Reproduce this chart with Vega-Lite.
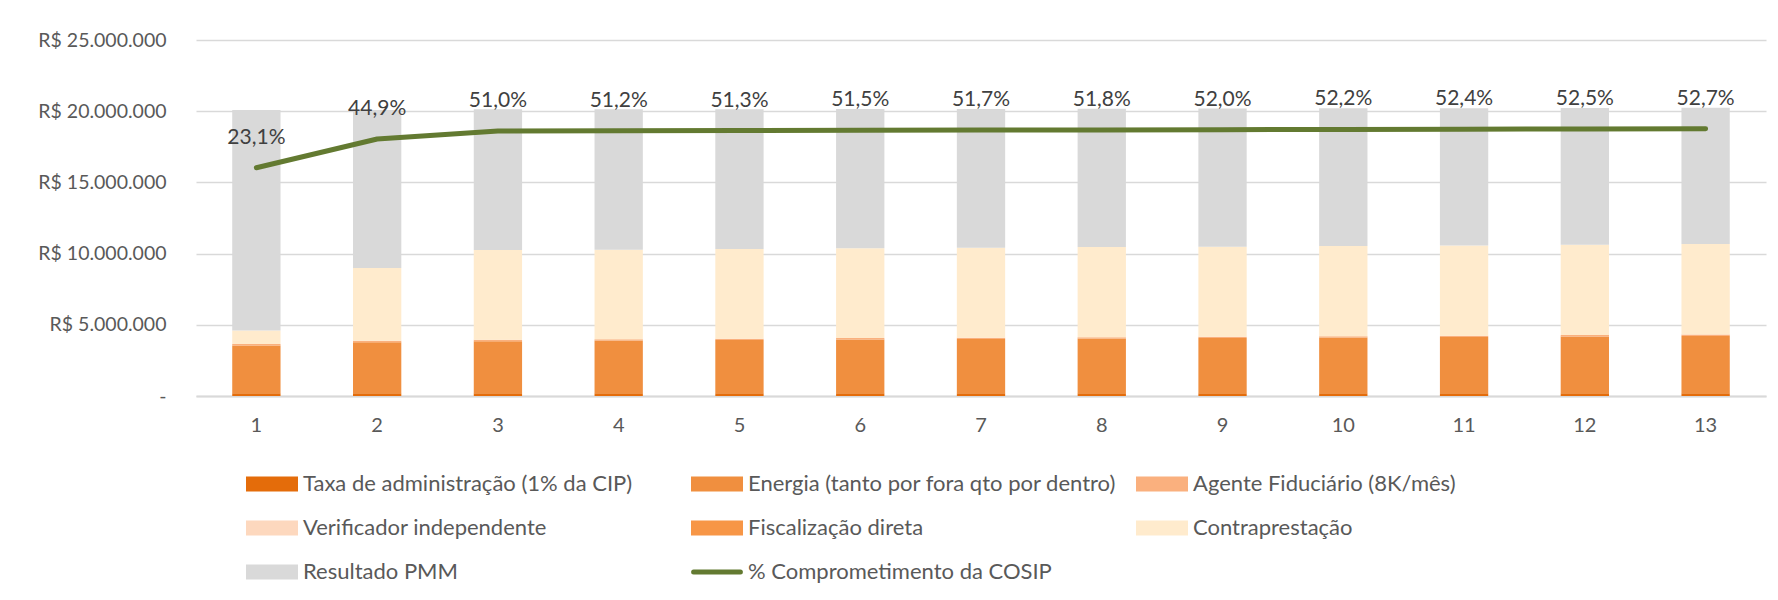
{
  "$schema": "https://vega.github.io/schema/vega-lite/v6.json",
  "width": 1570,
  "height": 356,
  "autosize": {"type": "none"},
  "padding": {"left": 196, "top": 40, "right": 12, "bottom": 204},
  "background": "white",
  "config": {
    "locale": {"number": {"decimal": ",", "thousands": ".", "grouping": [3], "currency": ["R$ ", ""]}},
    "view": {"stroke": null},
    "font": "Lato",
    "axis": {"labelFont": "Lato", "labelFontSize": 20, "labelColor": "#595959"}
  },
  "datasets": {
    "custos": [
      {"ano": 1, "serie": "Taxa de administração (1% da CIP)", "ordem": 1, "valor": 200000},
      {"ano": 1, "serie": "Energia (tanto por fora qto por dentro)", "ordem": 2, "valor": 3350000},
      {"ano": 1, "serie": "Agente Fiduciário (8K/mês)", "ordem": 3, "valor": 96000},
      {"ano": 1, "serie": "Verificador independente", "ordem": 4, "valor": 0},
      {"ano": 1, "serie": "Fiscalização direta", "ordem": 5, "valor": 0},
      {"ano": 1, "serie": "Contraprestação", "ordem": 6, "valor": 954000},
      {"ano": 1, "serie": "Resultado PMM", "ordem": 7, "valor": 15480000},
      {"ano": 2, "serie": "Taxa de administração (1% da CIP)", "ordem": 1, "valor": 200000},
      {"ano": 2, "serie": "Energia (tanto por fora qto por dentro)", "ordem": 2, "valor": 3580000},
      {"ano": 2, "serie": "Agente Fiduciário (8K/mês)", "ordem": 3, "valor": 96000},
      {"ano": 2, "serie": "Verificador independente", "ordem": 4, "valor": 0},
      {"ano": 2, "serie": "Fiscalização direta", "ordem": 5, "valor": 0},
      {"ano": 2, "serie": "Contraprestação", "ordem": 6, "valor": 5114000},
      {"ano": 2, "serie": "Resultado PMM", "ordem": 7, "valor": 11090000},
      {"ano": 3, "serie": "Taxa de administração (1% da CIP)", "ordem": 1, "valor": 200000},
      {"ano": 3, "serie": "Energia (tanto por fora qto por dentro)", "ordem": 2, "valor": 3650000},
      {"ano": 3, "serie": "Agente Fiduciário (8K/mês)", "ordem": 3, "valor": 96000},
      {"ano": 3, "serie": "Verificador independente", "ordem": 4, "valor": 0},
      {"ano": 3, "serie": "Fiscalização direta", "ordem": 5, "valor": 0},
      {"ano": 3, "serie": "Contraprestação", "ordem": 6, "valor": 6304000},
      {"ano": 3, "serie": "Resultado PMM", "ordem": 7, "valor": 9880000},
      {"ano": 4, "serie": "Taxa de administração (1% da CIP)", "ordem": 1, "valor": 200000},
      {"ano": 4, "serie": "Energia (tanto por fora qto por dentro)", "ordem": 2, "valor": 3690000},
      {"ano": 4, "serie": "Agente Fiduciário (8K/mês)", "ordem": 3, "valor": 96000},
      {"ano": 4, "serie": "Verificador independente", "ordem": 4, "valor": 0},
      {"ano": 4, "serie": "Fiscalização direta", "ordem": 5, "valor": 0},
      {"ano": 4, "serie": "Contraprestação", "ordem": 6, "valor": 6284000},
      {"ano": 4, "serie": "Resultado PMM", "ordem": 7, "valor": 9860000},
      {"ano": 5, "serie": "Taxa de administração (1% da CIP)", "ordem": 1, "valor": 200000},
      {"ano": 5, "serie": "Energia (tanto por fora qto por dentro)", "ordem": 2, "valor": 3730000},
      {"ano": 5, "serie": "Agente Fiduciário (8K/mês)", "ordem": 3, "valor": 96000},
      {"ano": 5, "serie": "Verificador independente", "ordem": 4, "valor": 0},
      {"ano": 5, "serie": "Fiscalização direta", "ordem": 5, "valor": 0},
      {"ano": 5, "serie": "Contraprestação", "ordem": 6, "valor": 6294000},
      {"ano": 5, "serie": "Resultado PMM", "ordem": 7, "valor": 9820000},
      {"ano": 6, "serie": "Taxa de administração (1% da CIP)", "ordem": 1, "valor": 200000},
      {"ano": 6, "serie": "Energia (tanto por fora qto por dentro)", "ordem": 2, "valor": 3770000},
      {"ano": 6, "serie": "Agente Fiduciário (8K/mês)", "ordem": 3, "valor": 96000},
      {"ano": 6, "serie": "Verificador independente", "ordem": 4, "valor": 0},
      {"ano": 6, "serie": "Fiscalização direta", "ordem": 5, "valor": 0},
      {"ano": 6, "serie": "Contraprestação", "ordem": 6, "valor": 6304000},
      {"ano": 6, "serie": "Resultado PMM", "ordem": 7, "valor": 9780000},
      {"ano": 7, "serie": "Taxa de administração (1% da CIP)", "ordem": 1, "valor": 200000},
      {"ano": 7, "serie": "Energia (tanto por fora qto por dentro)", "ordem": 2, "valor": 3800000},
      {"ano": 7, "serie": "Agente Fiduciário (8K/mês)", "ordem": 3, "valor": 96000},
      {"ano": 7, "serie": "Verificador independente", "ordem": 4, "valor": 0},
      {"ano": 7, "serie": "Fiscalização direta", "ordem": 5, "valor": 0},
      {"ano": 7, "serie": "Contraprestação", "ordem": 6, "valor": 6314000},
      {"ano": 7, "serie": "Resultado PMM", "ordem": 7, "valor": 9750000},
      {"ano": 8, "serie": "Taxa de administração (1% da CIP)", "ordem": 1, "valor": 200000},
      {"ano": 8, "serie": "Energia (tanto por fora qto por dentro)", "ordem": 2, "valor": 3830000},
      {"ano": 8, "serie": "Agente Fiduciário (8K/mês)", "ordem": 3, "valor": 96000},
      {"ano": 8, "serie": "Verificador independente", "ordem": 4, "valor": 0},
      {"ano": 8, "serie": "Fiscalização direta", "ordem": 5, "valor": 0},
      {"ano": 8, "serie": "Contraprestação", "ordem": 6, "valor": 6334000},
      {"ano": 8, "serie": "Resultado PMM", "ordem": 7, "valor": 9720000},
      {"ano": 9, "serie": "Taxa de administração (1% da CIP)", "ordem": 1, "valor": 200000},
      {"ano": 9, "serie": "Energia (tanto por fora qto por dentro)", "ordem": 2, "valor": 3870000},
      {"ano": 9, "serie": "Agente Fiduciário (8K/mês)", "ordem": 3, "valor": 96000},
      {"ano": 9, "serie": "Verificador independente", "ordem": 4, "valor": 0},
      {"ano": 9, "serie": "Fiscalização direta", "ordem": 5, "valor": 0},
      {"ano": 9, "serie": "Contraprestação", "ordem": 6, "valor": 6314000},
      {"ano": 9, "serie": "Resultado PMM", "ordem": 7, "valor": 9710000},
      {"ano": 10, "serie": "Taxa de administração (1% da CIP)", "ordem": 1, "valor": 200000},
      {"ano": 10, "serie": "Energia (tanto por fora qto por dentro)", "ordem": 2, "valor": 3900000},
      {"ano": 10, "serie": "Agente Fiduciário (8K/mês)", "ordem": 3, "valor": 96000},
      {"ano": 10, "serie": "Verificador independente", "ordem": 4, "valor": 0},
      {"ano": 10, "serie": "Fiscalização direta", "ordem": 5, "valor": 0},
      {"ano": 10, "serie": "Contraprestação", "ordem": 6, "valor": 6334000},
      {"ano": 10, "serie": "Resultado PMM", "ordem": 7, "valor": 9670000},
      {"ano": 11, "serie": "Taxa de administração (1% da CIP)", "ordem": 1, "valor": 200000},
      {"ano": 11, "serie": "Energia (tanto por fora qto por dentro)", "ordem": 2, "valor": 3940000},
      {"ano": 11, "serie": "Agente Fiduciário (8K/mês)", "ordem": 3, "valor": 96000},
      {"ano": 11, "serie": "Verificador independente", "ordem": 4, "valor": 0},
      {"ano": 11, "serie": "Fiscalização direta", "ordem": 5, "valor": 0},
      {"ano": 11, "serie": "Contraprestação", "ordem": 6, "valor": 6334000},
      {"ano": 11, "serie": "Resultado PMM", "ordem": 7, "valor": 9640000},
      {"ano": 12, "serie": "Taxa de administração (1% da CIP)", "ordem": 1, "valor": 200000},
      {"ano": 12, "serie": "Energia (tanto por fora qto por dentro)", "ordem": 2, "valor": 3980000},
      {"ano": 12, "serie": "Agente Fiduciário (8K/mês)", "ordem": 3, "valor": 96000},
      {"ano": 12, "serie": "Verificador independente", "ordem": 4, "valor": 0},
      {"ano": 12, "serie": "Fiscalização direta", "ordem": 5, "valor": 0},
      {"ano": 12, "serie": "Contraprestação", "ordem": 6, "valor": 6344000},
      {"ano": 12, "serie": "Resultado PMM", "ordem": 7, "valor": 9600000},
      {"ano": 13, "serie": "Taxa de administração (1% da CIP)", "ordem": 1, "valor": 200000},
      {"ano": 13, "serie": "Energia (tanto por fora qto por dentro)", "ordem": 2, "valor": 4020000},
      {"ano": 13, "serie": "Agente Fiduciário (8K/mês)", "ordem": 3, "valor": 96000},
      {"ano": 13, "serie": "Verificador independente", "ordem": 4, "valor": 0},
      {"ano": 13, "serie": "Fiscalização direta", "ordem": 5, "valor": 0},
      {"ano": 13, "serie": "Contraprestação", "ordem": 6, "valor": 6354000},
      {"ano": 13, "serie": "Resultado PMM", "ordem": 7, "valor": 9570000}
    ],
    "cosip": [
      {"ano": 1, "serie": "% Comprometimento da COSIP", "pct": 0.231},
      {"ano": 2, "serie": "% Comprometimento da COSIP", "pct": 0.449},
      {"ano": 3, "serie": "% Comprometimento da COSIP", "pct": 0.510},
      {"ano": 4, "serie": "% Comprometimento da COSIP", "pct": 0.512},
      {"ano": 5, "serie": "% Comprometimento da COSIP", "pct": 0.513},
      {"ano": 6, "serie": "% Comprometimento da COSIP", "pct": 0.515},
      {"ano": 7, "serie": "% Comprometimento da COSIP", "pct": 0.517},
      {"ano": 8, "serie": "% Comprometimento da COSIP", "pct": 0.518},
      {"ano": 9, "serie": "% Comprometimento da COSIP", "pct": 0.520},
      {"ano": 10, "serie": "% Comprometimento da COSIP", "pct": 0.522},
      {"ano": 11, "serie": "% Comprometimento da COSIP", "pct": 0.524},
      {"ano": 12, "serie": "% Comprometimento da COSIP", "pct": 0.525},
      {"ano": 13, "serie": "% Comprometimento da COSIP", "pct": 0.527}
    ]
  },
  "layer": [
    {
      "data": {"name": "custos"},
      "mark": {"type": "bar"},
      "encoding": {
        "x": {
          "field": "ano", "type": "ordinal",
          "scale": {"paddingInner": 0.6, "paddingOuter": 0.3},
          "axis": {"title": null, "labelAngle": 0, "ticks": false, "domainColor": "#D9D9D9", "domainWidth": 2, "labelPadding": 19, "labelFontSize": 20, "labelColor": "#595959"}
        },
        "y": {
          "field": "valor", "type": "quantitative", "stack": "zero",
          "scale": {"domain": [0, 25000000], "nice": false},
          "axis": {"title": null, "values": [0, 5000000, 10000000, 15000000, 20000000, 25000000], "format": "$,.0f", "labelExpr": "datum.value === 0 ? '-' : datum.label", "domain": false, "ticks": false, "labelPadding": 30, "gridColor": "#D9D9D9", "gridWidth": 1.5, "labelFontSize": 19.5, "labelColor": "#595959"}
        },
        "order": {"field": "ordem", "type": "quantitative"},
        "color": {
          "field": "serie", "type": "nominal",
          "scale": {
            "domain": ["Taxa de administração (1% da CIP)", "Energia (tanto por fora qto por dentro)", "Agente Fiduciário (8K/mês)", "Verificador independente", "Fiscalização direta", "Contraprestação", "Resultado PMM", "% Comprometimento da COSIP"],
            "range": ["#E46C0A", "#F08F3F", "#FAB07E", "#FDD8BE", "#F79646", "#FFEBCD", "#D9D9D9", "#637A31"]
          },
          "legend": {
            "title": null, "orient": "none", "legendX": 50, "legendY": 433,
            "columns": 3, "direction": "horizontal", "gridAlign": "all",
            "columnPadding": 11, "rowPadding": 22, "labelOffset": 5,
            "labelFont": "Lato", "labelFontSize": 22, "labelColor": "#595959", "labelLimit": 600,
            "symbolSize": 2704, "symbolOpacity": 1, "symbolStrokeWidth": 0,
            "encode": {
              "symbols": {
                "update": {
                  "x": {"value": 26},
                  "size": {"value": 2704},
                  "shape": {"signal": "datum.value === '% Comprometimento da COSIP' ? 'M-0.9,0H0.9' : 'M-1,-0.29H1V0.29H-1Z'"},
                  "fill": {"signal": "datum.value === '% Comprometimento da COSIP' ? 'transparent' : scale('color', datum.value)"},
                  "stroke": {"signal": "scale('color', datum.value)"},
                  "strokeWidth": {"signal": "datum.value === '% Comprometimento da COSIP' ? 5 : 0"},
                  "strokeCap": {"value": "round"},
                  "opacity": {"value": 1}
                }
              },
              "labels": {
                "update": {
                  "x": {"value": 57}
                }
              }
            }
          }
        }
      }
    },
    {
      "data": {"name": "cosip"},
      "mark": {"type": "line", "strokeWidth": 5, "strokeCap": "round", "strokeJoin": "round"},
      "encoding": {
        "x": {"field": "ano", "type": "ordinal", "bandPosition": 0.5},
        "y": {"field": "pct", "type": "quantitative", "scale": {"domain": [-1.5, 1.2], "nice": false}, "axis": null},
        "color": {"field": "serie", "type": "nominal"}
      }
    },
    {
      "data": {"name": "cosip"},
      "mark": {"type": "text", "font": "Lato", "fontSize": 21, "color": "#404040", "baseline": "alphabetic", "dy": -24},
      "encoding": {
        "x": {"field": "ano", "type": "ordinal", "bandPosition": 0.5},
        "y": {"field": "pct", "type": "quantitative", "scale": {"domain": [-1.5, 1.2], "nice": false}, "axis": null},
        "text": {"field": "pct", "type": "quantitative", "format": ".1%"}
      }
    }
  ],
  "resolve": {"scale": {"y": "independent"}}
}
